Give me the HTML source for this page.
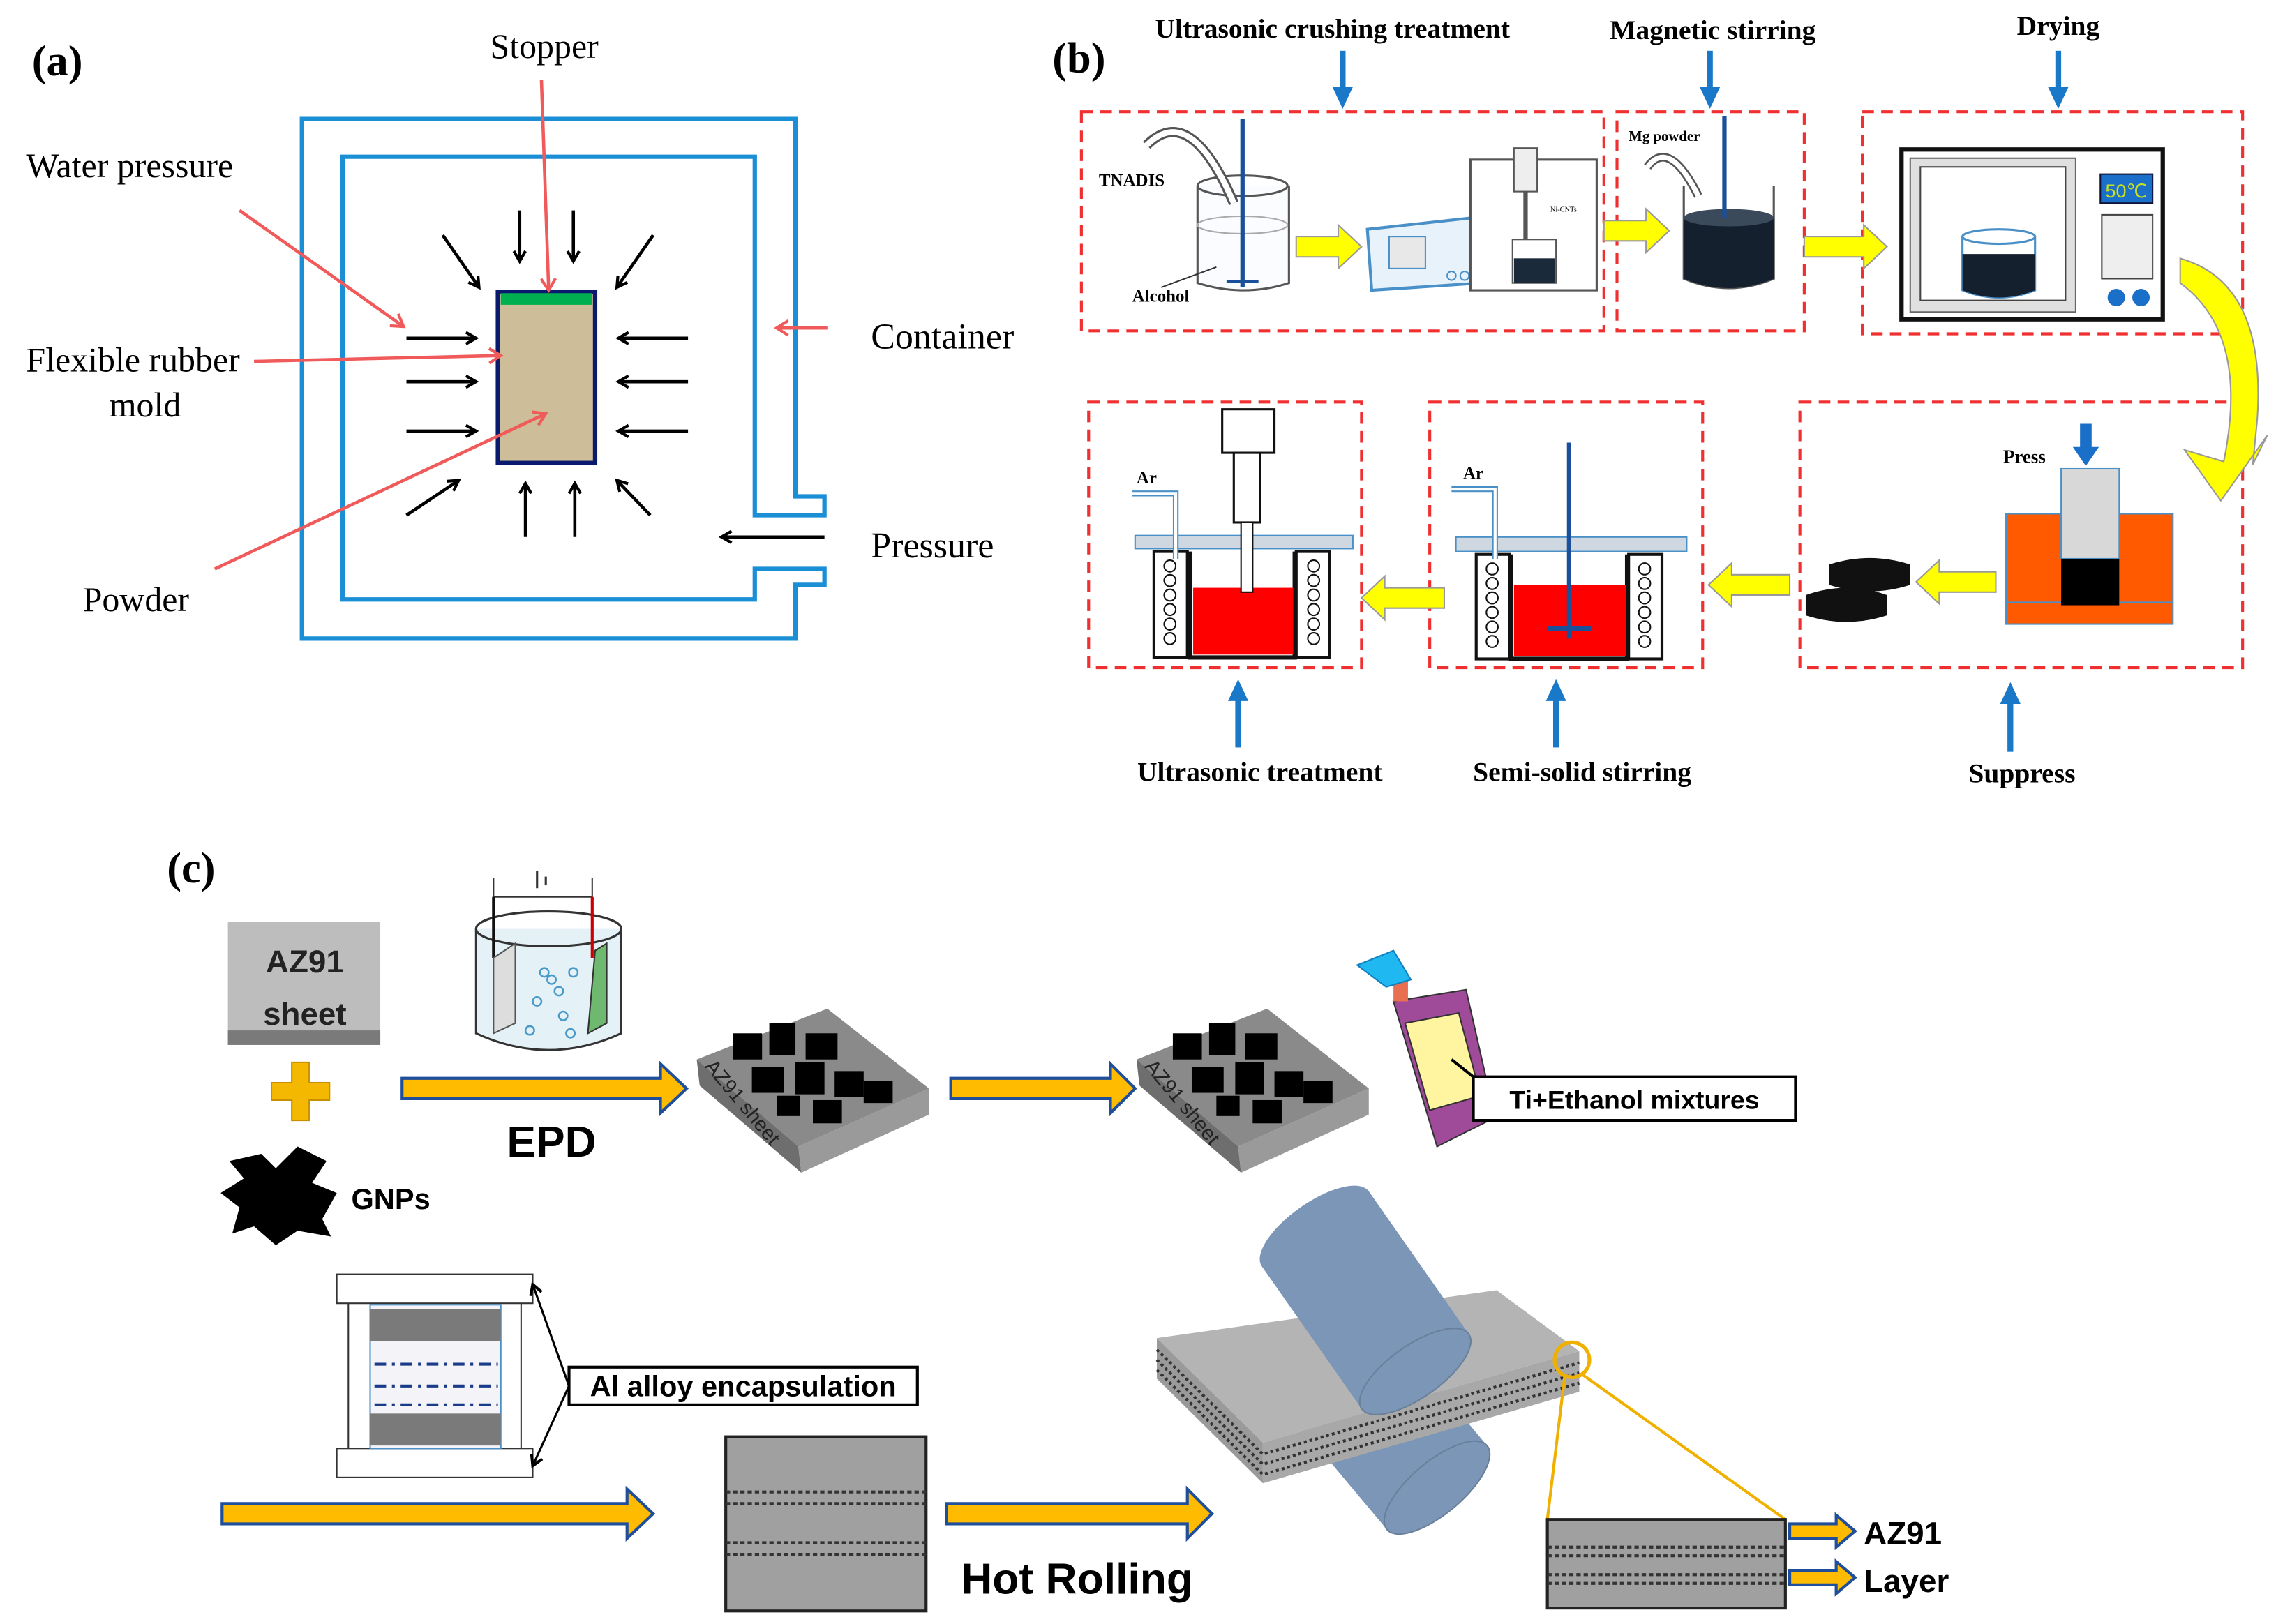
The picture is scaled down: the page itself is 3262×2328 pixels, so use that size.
<!DOCTYPE html>
<html><head><meta charset="utf-8"><style>
html,body{margin:0;padding:0;background:#fff}
svg{display:block}
.s{font-family:"Liberation Serif",serif}
.b{font-family:"Liberation Serif",serif;font-weight:bold}
.h{font-family:"Liberation Sans",sans-serif;font-weight:bold}
</style></head><body>
<svg width="3262" height="2328" viewBox="0 0 1568 1119" preserveAspectRatio="none" xmlns="http://www.w3.org/2000/svg">
<defs>
<marker id="ak" markerWidth="10" markerHeight="10" refX="8" refY="5" orient="auto" markerUnits="userSpaceOnUse"><path d="M1,1 L8,5 L1,9" fill="none" stroke="#000" stroke-width="2"/></marker>
<marker id="ar" markerWidth="12" markerHeight="12" refX="9" refY="6" orient="auto" markerUnits="userSpaceOnUse"><path d="M1,1 L9,6 L1,11" fill="none" stroke="#f05a5a" stroke-width="2"/></marker>
</defs>
<rect width="1568" height="1119" fill="#fff"/>

<!-- (a) -->
<text x="22" y="52" class="b" font-size="30">(a)</text>
<text x="375" y="40" class="s" font-size="24" text-anchor="middle">Stopper</text>
<path d="M208,82 H548 V342 H568 V355 H520 V108 H236 V413 H520 V392 H568 V403 H548 V440 H208 Z" fill="none" stroke="#1a8fd6" stroke-width="3"/>
<rect x="343" y="201" width="67" height="118" fill="#cdbd98" stroke="#0a1a6e" stroke-width="3"/>
<rect x="345" y="202" width="63" height="8" fill="#00b050"/>
<g stroke="#000" stroke-width="2.2" marker-end="url(#ak)">
<line x1="280" y1="233" x2="328" y2="233"/><line x1="280" y1="263" x2="328" y2="263"/><line x1="280" y1="297" x2="328" y2="297"/>
<line x1="474" y1="233" x2="426" y2="233"/><line x1="474" y1="263" x2="426" y2="263"/><line x1="474" y1="297" x2="426" y2="297"/>
<line x1="358" y1="145" x2="358" y2="180"/><line x1="395" y1="145" x2="395" y2="180"/>
<line x1="362" y1="370" x2="362" y2="333"/><line x1="396" y1="370" x2="396" y2="333"/>
<line x1="305" y1="162" x2="330" y2="198"/><line x1="450" y1="162" x2="425" y2="198"/>
<line x1="280" y1="355" x2="316" y2="331"/><line x1="448" y1="355" x2="425" y2="331"/>
<line x1="568" y1="370" x2="497" y2="370"/>
</g>
<g stroke="#f05a5a" stroke-width="2.2" marker-end="url(#ar)">
<line x1="373" y1="55" x2="378" y2="200"/>
<line x1="165" y1="145" x2="278" y2="225"/>
<line x1="175" y1="249" x2="345" y2="245"/>
<line x1="148" y1="392" x2="376" y2="285"/>
<line x1="570" y1="226" x2="535" y2="226"/>
</g>
<text x="18" y="122" class="s" font-size="24">Water pressure</text>
<text x="18" y="256" class="s" font-size="24">Flexible rubber</text>
<text x="100" y="287" class="s" font-size="24" text-anchor="middle">mold</text>
<text x="57" y="421" class="s" font-size="24">Powder</text>
<text x="600" y="240" class="s" font-size="25">Container</text>
<text x="600" y="384" class="s" font-size="25">Pressure</text>

<!-- (b) -->
<text x="725" y="50" class="b" font-size="30">(b)</text>
<g class="b" font-size="19" text-anchor="middle">
<text x="918" y="26">Ultrasonic crushing treatment</text>
<text x="1180" y="27">Magnetic stirring</text>
<text x="1418" y="24">Drying</text>
<text x="868" y="538">Ultrasonic treatment</text>
<text x="1090" y="538">Semi-solid stirring</text>
<text x="1393" y="539">Suppress</text>
</g>
<g fill="#1a78c8">
<rect x="923" y="35" width="4" height="28"/><path d="M918,60 H932 L925,75 Z"/>
<rect x="1176" y="35" width="4" height="28"/><path d="M1171,60 H1185 L1178,75 Z"/>
<rect x="1416" y="35" width="4" height="28"/><path d="M1411,60 H1425 L1418,75 Z"/>
<rect x="851" y="480" width="4" height="35"/><path d="M846,483 H860 L853,468 Z"/>
<rect x="1070" y="480" width="4" height="35"/><path d="M1065,483 H1079 L1072,468 Z"/>
<rect x="1383" y="482" width="4" height="36"/><path d="M1378,485 H1392 L1385,470 Z"/>
</g>
<g fill="none" stroke="#f03030" stroke-width="2" stroke-dasharray="8,5">
<rect x="745" y="77" width="360" height="151"/><rect x="1114" y="77" width="129" height="151"/><rect x="1283" y="77" width="262" height="153"/>
<rect x="750" y="277" width="188" height="183"/><rect x="985" y="277" width="188" height="183"/><rect x="1240" y="277" width="305" height="183"/>
</g>
<!-- beaker 1 -->
<path d="M825,128 V195 Q857,205 888,195 V128" fill="#fafcff" stroke="#555" stroke-width="1.5"/>
<ellipse cx="856" cy="128" rx="31" ry="7" fill="none" stroke="#555" stroke-width="1.5"/>
<ellipse cx="856" cy="155" rx="31" ry="6" fill="none" stroke="#aaa" stroke-width="1"/>
<line x1="856" y1="82" x2="856" y2="198" stroke="#1a4f9a" stroke-width="3"/>
<path d="M845,194 L867,194" stroke="#1a4f9a" stroke-width="2"/>
<path d="M790,100 Q820,70 850,140" fill="none" stroke="#555" stroke-width="7"/>
<path d="M790,100 Q820,70 850,140" fill="none" stroke="#fff" stroke-width="4"/>
<text x="757" y="128" class="b" font-size="12">TNADIS</text>
<text x="780" y="208" class="b" font-size="12">Alcohol</text>
<line x1="800" y1="198" x2="838" y2="184" stroke="#333" stroke-width="1"/>
<!-- ultrasonic device -->
<path d="M942,158 L1015,150 L1020,195 L945,200 Z" fill="#e8f2fa" stroke="#4a90c8" stroke-width="2"/>
<rect x="957" y="163" width="25" height="22" fill="#e8e8e8" stroke="#4a90c8"/>
<circle cx="1000" cy="190" r="3" fill="none" stroke="#4a90c8"/><circle cx="1009" cy="190" r="3" fill="none" stroke="#4a90c8"/>
<rect x="1013" y="110" width="87" height="90" fill="#fff" stroke="#555" stroke-width="1.5"/>
<rect x="1043" y="102" width="16" height="30" fill="#eee" stroke="#555"/>
<line x1="1051" y1="132" x2="1051" y2="170" stroke="#555" stroke-width="3"/>
<rect x="1042" y="165" width="30" height="30" fill="#fff" stroke="#555"/>
<rect x="1043" y="178" width="28" height="17" fill="#1a2a3a"/>
<text x="1068" y="146" class="s" font-size="5">Ni-CNTs</text>
<!-- mg beaker -->
<path d="M1160,128 V192 Q1191,205 1222,192 V128" fill="#fff" stroke="#555" stroke-width="1.5"/>
<path d="M1160,150 V192 Q1191,205 1222,192 V150 Z" fill="#14202e"/>
<ellipse cx="1191" cy="150" rx="31" ry="6" fill="#3a4a5a"/>
<line x1="1188" y1="80" x2="1188" y2="150" stroke="#1a4f9a" stroke-width="3"/>
<text x="1122" y="97" class="b" font-size="10">Mg powder</text>
<path d="M1135,115 Q1150,95 1170,135" fill="none" stroke="#555" stroke-width="6"/>
<path d="M1135,115 Q1150,95 1170,135" fill="none" stroke="#fff" stroke-width="3.5"/>
<!-- oven -->
<rect x="1310" y="103" width="180" height="117" fill="#fff" stroke="#111" stroke-width="3"/>
<rect x="1316" y="109" width="114" height="106" fill="#e0e0e0" stroke="#666"/>
<rect x="1323" y="115" width="100" height="92" fill="#fff" stroke="#444"/>
<rect x="1447" y="120" width="36" height="20" fill="#1a6fc8" stroke="#113"/>
<text x="1465" y="136" font-family="Liberation Sans,sans-serif" font-size="13" fill="#c8e020" text-anchor="middle">50℃</text>
<rect x="1448" y="148" width="35" height="44" fill="#eee" stroke="#444"/>
<circle cx="1458" cy="205" r="6" fill="#1a6fc8"/><circle cx="1475" cy="205" r="6" fill="#1a6fc8"/>
<path d="M1352,163 V200 Q1377,210 1402,200 V163" fill="#fff" stroke="#4a90c8" stroke-width="1.5"/>
<path d="M1352,175 V200 Q1377,210 1402,200 V175 Z" fill="#14202e"/>
<ellipse cx="1377" cy="163" rx="25" ry="5" fill="none" stroke="#4a90c8" stroke-width="1.5"/>
<!-- yellow arrows -->
<g fill="#ffff00" stroke="#999" stroke-width="1">
<path d="M893,163 H922 V155 L938,170 L922,185 V177 H893 Z"/>
<path d="M1105,152 H1134 V144 L1150,159 L1134,174 V166 H1105 Z"/>
<path d="M1243,163 H1284 V155 L1300,170 L1284,185 V177 H1243 Z"/>
<path d="M995,405 H954 V397 L938,412 L954,427 V419 H995 Z"/>
<path d="M1233,396 H1193 V388 L1177,403 L1193,418 V410 H1233 Z"/>
<path d="M1375,394 H1336 V386 L1320,401 L1336,416 V408 H1375 Z"/>
<path d="M1502,178 Q1562,195 1555,290 L1552,320 L1562,300 L1530,345 L1505,310 L1532,318 Q1550,230 1502,195 Z"/>
</g>
<!-- press -->
<rect x="1382" y="354" width="115" height="76" fill="#ff5a00" stroke="#4a90c8"/>
<line x1="1382" y1="415" x2="1497" y2="415" stroke="#4a90c8"/>
<rect x="1420" y="323" width="40" height="62" fill="#d8d8d8" stroke="#4a90c8"/>
<rect x="1420" y="385" width="40" height="32" fill="#000"/>
<line x1="1437" y1="292" x2="1437" y2="312" stroke="#1a6fc8" stroke-width="8"/>
<path d="M1428,308 H1446 L1437,321 Z" fill="#1a6fc8"/>
<text x="1380" y="319" class="b" font-size="13">Press</text>
<g fill="#111"><path d="M1260,389 Q1288,380 1316,389 V403 Q1288,412 1260,403 Z"/><path d="M1244,410 Q1272,400 1300,410 V424 Q1272,433 1244,424 Z"/></g>
<!-- crucible 1 -->
<rect x="782" y="369" width="150" height="9" fill="#cfd8e0" stroke="#4a90c8"/>
<rect x="795" y="380" width="23" height="73" fill="#fff" stroke="#111" stroke-width="2"/>
<rect x="893" y="380" width="23" height="73" fill="#fff" stroke="#111" stroke-width="2"/>
<g fill="none" stroke="#111"><circle cx="806" cy="390" r="4"/><circle cx="806" cy="400" r="4"/><circle cx="806" cy="410" r="4"/><circle cx="806" cy="420" r="4"/><circle cx="806" cy="430" r="4"/><circle cx="806" cy="440" r="4"/>
<circle cx="905" cy="390" r="4"/><circle cx="905" cy="400" r="4"/><circle cx="905" cy="410" r="4"/><circle cx="905" cy="420" r="4"/><circle cx="905" cy="430" r="4"/><circle cx="905" cy="440" r="4"/></g>
<path d="M820,380 V453 H892 V380" fill="none" stroke="#111" stroke-width="3"/>
<rect x="822" y="405" width="69" height="46" fill="#ff0000"/>
<rect x="842" y="282" width="36" height="30" fill="#fff" stroke="#111" stroke-width="1.5"/>
<rect x="850" y="312" width="18" height="48" fill="#fff" stroke="#111" stroke-width="1.5"/>
<rect x="855" y="360" width="8" height="48" fill="#fff" stroke="#111" stroke-width="1"/>
<path d="M780,340 H810 V385" fill="none" stroke="#4a90c8" stroke-width="4"/>
<path d="M780,340 H810 V385" fill="none" stroke="#fff" stroke-width="2"/>
<text x="783" y="333" class="b" font-size="12">Ar</text>
<!-- crucible 2 -->
<rect x="1003" y="370" width="159" height="10" fill="#cfd8e0" stroke="#4a90c8"/>
<rect x="1017" y="382" width="23" height="72" fill="#fff" stroke="#111" stroke-width="2"/>
<rect x="1122" y="382" width="23" height="72" fill="#fff" stroke="#111" stroke-width="2"/>
<g fill="none" stroke="#111"><circle cx="1028" cy="392" r="4"/><circle cx="1028" cy="402" r="4"/><circle cx="1028" cy="412" r="4"/><circle cx="1028" cy="422" r="4"/><circle cx="1028" cy="432" r="4"/><circle cx="1028" cy="442" r="4"/>
<circle cx="1133" cy="392" r="4"/><circle cx="1133" cy="402" r="4"/><circle cx="1133" cy="412" r="4"/><circle cx="1133" cy="422" r="4"/><circle cx="1133" cy="432" r="4"/><circle cx="1133" cy="442" r="4"/></g>
<path d="M1041,382 V454 H1121 V382" fill="none" stroke="#111" stroke-width="3"/>
<rect x="1043" y="403" width="77" height="49" fill="#ff0000"/>
<line x1="1081" y1="305" x2="1081" y2="440" stroke="#1a4f9a" stroke-width="3"/>
<path d="M1066,433 L1096,433" stroke="#1a4f9a" stroke-width="3"/>
<path d="M1000,337 H1030 V385" fill="none" stroke="#4a90c8" stroke-width="4"/>
<path d="M1000,337 H1030 V385" fill="none" stroke="#fff" stroke-width="2"/>
<text x="1008" y="330" class="b" font-size="12">Ar</text>

<!-- (c) -->
<text x="115" y="608" class="b" font-size="30">(c)</text>
<rect x="157" y="635" width="105" height="85" fill="#bdbdbd"/>
<rect x="157" y="710" width="105" height="10" fill="#7a7a7a"/>
<text x="210" y="670" class="h" font-size="22" text-anchor="middle" fill="#222">AZ91</text>
<text x="210" y="706" class="h" font-size="22" text-anchor="middle" fill="#222">sheet</text>
<path d="M201,732 H213 V746 H227 V758 H213 V772 H201 V758 H187 V746 H201 Z" fill="#f5b800" stroke="#c89000"/>
<g fill="#000">
<path d="M158,800 L180,795 L190,805 L205,790 L225,800 L215,815 L232,822 L222,840 L228,852 L205,848 L190,858 L175,845 L160,850 L165,832 L152,822 L168,812 Z"/>
</g>
<text x="242" y="833" class="h" font-size="20">GNPs</text>
<!-- EPD cell -->
<path d="M340,605 V618 H408 V605" fill="none" stroke="#333"/>
<line x1="370" y1="600" x2="370" y2="612" stroke="#333" stroke-width="1.5"/><line x1="376" y1="604" x2="376" y2="610" stroke="#333" stroke-width="1.5"/>
<path d="M328,640 V712 Q378,735 428,712 V640" fill="#e4f2f8" stroke="#333" stroke-width="1.5"/>
<ellipse cx="378" cy="640" rx="50" ry="12" fill="none" stroke="#333" stroke-width="1.5"/>
<line x1="340" y1="618" x2="340" y2="660" stroke="#111" stroke-width="2"/>
<line x1="408" y1="618" x2="408" y2="660" stroke="#c00" stroke-width="2"/>
<path d="M340,660 L355,650 V705 L340,712 Z" fill="#ddd" stroke="#555"/>
<path d="M410,655 L418,650 V705 L405,712 Z" fill="#6fb86f" stroke="#333"/>
<g fill="none" stroke="#4a9ac8" stroke-width="1.2"><circle cx="375" cy="670" r="3"/><circle cx="380" cy="675" r="3"/><circle cx="385" cy="683" r="3"/><circle cx="370" cy="690" r="3"/><circle cx="388" cy="700" r="3"/><circle cx="365" cy="710" r="3"/><circle cx="393" cy="712" r="3"/><circle cx="395" cy="670" r="3"/></g>
<!-- orange arrows -->
<g fill="#ffbb00" stroke="#1f4e9a" stroke-width="2">
<path d="M277,743 H455 V733 L473,750 L455,767 V757 H277 Z"/>
<path d="M655,743 H765 V733 L782,750 L765,767 V757 H655 Z"/>
<path d="M153,1036 H432 V1026 L450,1043 L432,1060 V1050 H153 Z"/>
<path d="M652,1036 H818 V1026 L835,1043 L818,1060 V1050 H652 Z"/>
<path d="M1233,1050 H1265 V1044 L1278,1055 L1265,1066 V1060 H1233 Z"/>
<path d="M1233,1082 H1265 V1076 L1278,1087 L1265,1098 V1092 H1233 Z"/>
</g>
<text x="380" y="797" class="h" font-size="30" text-anchor="middle">EPD</text>
<!-- sheet blocks -->
<g id="blk">
<path d="M480,730 L570,695 L640,750 L550,790 Z" fill="#8a8a8a"/>
<path d="M480,730 L550,790 L552,808 L482,748 Z" fill="#6e6e6e"/>
<path d="M550,790 L640,750 L640,768 L552,808 Z" fill="#9a9a9a"/>
<g fill="#000"><rect x="505" y="712" width="20" height="18"/><rect x="530" y="705" width="18" height="22"/><rect x="555" y="712" width="22" height="18"/><rect x="518" y="735" width="22" height="18"/><rect x="548" y="732" width="20" height="22"/><rect x="575" y="738" width="20" height="18"/><rect x="595" y="745" width="20" height="15"/><rect x="560" y="758" width="20" height="16"/><rect x="535" y="755" width="16" height="14"/></g>
<text x="0" y="0" transform="translate(485,735) rotate(50)" font-family="Liberation Sans,sans-serif" font-size="14" fill="#222">AZ91 sheet</text>
</g>
<use href="#blk" transform="translate(303,0)"/>
<!-- spray -->
<path d="M960,690 L1010,682 L1030,770 L990,790 Z" fill="#a04a9a" stroke="#333"/>
<path d="M968,705 L1005,698 L1020,755 L985,765 Z" fill="#fff4a0" stroke="#333"/>
<rect x="960" y="672" width="10" height="18" fill="#e87050"/>
<path d="M935,665 L960,655 L972,675 L955,680 Z" fill="#20b8f0" stroke="#1080c0"/>
<line x1="1015" y1="742" x2="1000" y2="730" stroke="#000" stroke-width="2"/>
<rect x="1015" y="742" width="222" height="30" fill="#fff" stroke="#000" stroke-width="2"/>
<text x="1126" y="764" class="h" font-size="18" text-anchor="middle">Ti+Ethanol mixtures</text>
<!-- encapsulation -->
<rect x="232" y="878" width="135" height="20" fill="#fff" stroke="#333"/>
<rect x="232" y="998" width="135" height="20" fill="#fff" stroke="#333"/>
<line x1="240" y1="898" x2="240" y2="998" stroke="#333"/><line x1="359" y1="898" x2="359" y2="998" stroke="#333"/>
<rect x="255" y="899" width="90" height="99" fill="#f4f4f8" stroke="#4a90c8"/>
<rect x="255" y="902" width="90" height="22" fill="#7a7a7a"/>
<rect x="255" y="974" width="90" height="22" fill="#7a7a7a"/>
<g stroke="#1a3a8a" stroke-width="2" stroke-dasharray="8,4,2,4"><line x1="258" y1="940" x2="343" y2="940"/><line x1="258" y1="955" x2="343" y2="955"/><line x1="258" y1="968" x2="343" y2="968"/></g>
<line x1="392" y1="955" x2="367" y2="885" stroke="#000" stroke-width="1.5" marker-end="url(#ak)"/>
<line x1="392" y1="955" x2="367" y2="1010" stroke="#000" stroke-width="1.5" marker-end="url(#ak)"/>
<rect x="392" y="942" width="240" height="26" fill="#fff" stroke="#000" stroke-width="2"/>
<text x="512" y="962" class="h" font-size="20" text-anchor="middle">Al alloy encapsulation</text>
<!-- slab -->
<rect x="500" y="990" width="138" height="120" fill="#a0a0a0" stroke="#222" stroke-width="2"/>
<g stroke="#333" stroke-width="2" stroke-dasharray="3,2"><line x1="500" y1="1028" x2="638" y2="1028"/><line x1="500" y1="1036" x2="638" y2="1036"/><line x1="500" y1="1063" x2="638" y2="1063"/><line x1="500" y1="1071" x2="638" y2="1071"/></g>
<text x="742" y="1098" class="h" font-size="30" text-anchor="middle">Hot Rolling</text>
<!-- rolling -->
<g transform="translate(990,1025) rotate(50)">
<path d="M-110,-45 H0 A18,45 0 0 1 0,45 H-110 A18,45 0 0 1 -110,-45 Z" fill="#7b96b6"/>
<ellipse cx="0" cy="0" rx="18" ry="45" fill="#7b96b6" stroke="#6a7f9a"/>
</g>
<path d="M797,922 L1031,889 L1088,931 L870,994 Z" fill="#b4b4b4"/>
<path d="M797,922 L870,994 L870,1022 L797,950 Z" fill="#9a9a9a"/>
<path d="M870,994 L1088,931 L1088,959 L870,1022 Z" fill="#a8a8a8"/>
<g stroke="#333" stroke-width="2" stroke-dasharray="2,2" fill="none">
<path d="M797,930 L870,1002 L1088,939"/><path d="M797,937 L870,1009 L1088,946"/><path d="M797,944 L870,1016 L1088,953"/>
</g>
<g transform="translate(975,945) rotate(55)">
<path d="M-120,-45 H0 A18,45 0 0 1 0,45 H-120 A18,45 0 0 1 -120,-45 Z" fill="#7b96b6"/>
<ellipse cx="0" cy="0" rx="18" ry="45" fill="#7b96b6" stroke="#6a7f9a"/>
</g>
<circle cx="1083" cy="937" r="12" fill="none" stroke="#f0b000" stroke-width="2.5"/>
<line x1="1078" y1="948" x2="1066" y2="1047" stroke="#f0b000" stroke-width="2"/>
<line x1="1090" y1="947" x2="1230" y2="1047" stroke="#f0b000" stroke-width="2"/>
<rect x="1066" y="1047" width="164" height="61" fill="#a0a0a0" stroke="#222" stroke-width="2"/>
<g stroke="#333" stroke-width="2" stroke-dasharray="3,2"><line x1="1066" y1="1066" x2="1230" y2="1066"/><line x1="1066" y1="1072" x2="1230" y2="1072"/><line x1="1066" y1="1085" x2="1230" y2="1085"/><line x1="1066" y1="1091" x2="1230" y2="1091"/></g>
<text x="1284" y="1064" class="h" font-size="22">AZ91</text>
<text x="1284" y="1097" class="h" font-size="22">Layer</text>
</svg>
</body></html>
